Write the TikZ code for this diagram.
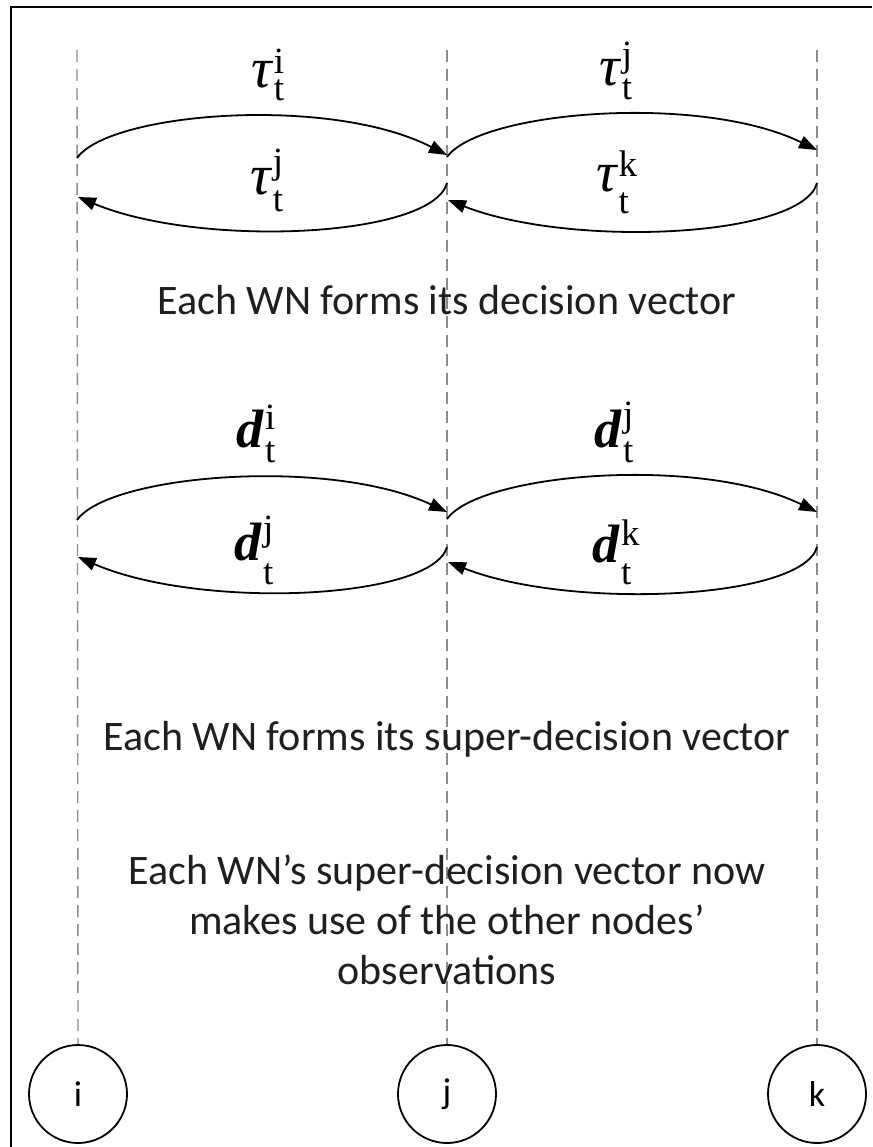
\documentclass[tikz,border=0pt]{standalone}
\usepackage{fontspec}
\setmainfont{Carlito}
\newfontfamily\lblfont{Liberation Serif}
\usetikzlibrary{arrows.meta}

% symbol with a stacked superscript and subscript:
% #1 base glyph, #2 superscript, #3 subscript, #4 raise, #5 drop
\newcommand{\stacklab}[5]{{\lblfont #1}\kern1.5pt{\lblfont\fontsize{37}{40}\selectfont
  \ooalign{\raisebox{#4}{#2}\cr\raisebox{-#5}{#3}\cr}}}

\tikzset{
  lane/.style={draw=black!45, line width=1.4pt, dash pattern=on 12pt off 7pt},
  msg/.style={draw=black, line width=1.8pt, -{Triangle[length=18pt,width=13pt]}},
  wn/.style={circle, draw=black, line width=1.8pt, minimum size=98pt, inner sep=0pt,
    font=\fontsize{36}{40}\selectfont},
  taulbl/.style={inner sep=0pt, anchor=base, font=\fontsize{57}{60}\selectfont},
  dlbl/.style={inner sep=0pt, anchor=base, font=\fontsize{54}{58}\selectfont},
  caption/.style={inner sep=0pt, anchor=base, text=black!88, align=center,
    font=\fontsize{42}{50}\selectfont},
  frameline/.style={draw=black, line width=2pt}
}

\begin{document}
\begin{tikzpicture}[x=1pt, y=-1pt]
  \useasboundingbox (0,0) rectangle (872,1147);
  \fill[white] (0,0) rectangle (872,1147);
  \draw[frameline] (11,1147) -- (11,7) -- (872,7);

  % wireless nodes
  \node[wn] (ni) at (78,1094) {i};
  \node[wn] (nj) at (447,1094) {j};
  \node[wn] (nk) at (817,1094) {k};

  % lane tops
  \coordinate (ti) at (77,50);
  \coordinate (tj) at (447,50);
  \coordinate (tk) at (817,50);
  \draw[lane] (ti) -- (ni.north);
  \draw[lane] (tj) -- (nj.north);
  \draw[lane] (tk) -- (nk.north);

  % first exchange: thresholds
  \coordinate (a1s) at (77,158);  \coordinate (a1e) at (447,155);
  \coordinate (a2s) at (447,183); \coordinate (a2e) at (78,197);
  \coordinate (a3s) at (447,157); \coordinate (a3e) at (817,150);
  \coordinate (a4s) at (817,183); \coordinate (a4e) at (448,200);
  \draw[msg] (a1s) .. controls (110,112) and (330,95) .. (a1e);
  \draw[msg] (a2s) .. controls (432,238) and (200,248) .. (a2e);
  \draw[msg] (a3s) .. controls (480,111) and (700,93) .. (a3e);
  \draw[msg] (a4s) .. controls (802,238) and (570,248) .. (a4e);

  \node[taulbl] (tau1) at (268,88)  {\stacklab{\itshape τ}{i}{t}{14pt}{13pt}};
  \node[taulbl] (tau2) at (267,195) {\stacklab{\itshape τ}{j}{t}{21pt}{17pt}};
  \node[taulbl] (tau3) at (616,86)  {\stacklab{\itshape τ}{j}{t}{19pt}{14pt}};
  \node[taulbl] (tau4) at (617,192) {\stacklab{\itshape τ}{k}{t}{15pt}{22pt}};

  \node[caption] (cap1) at (447,314) {Each WN forms its decision vector};

  % second exchange: decision vectors
  \coordinate (b1s) at (77,520);  \coordinate (b1e) at (447,512);
  \coordinate (b2s) at (447,547); \coordinate (b2e) at (78,557);
  \coordinate (b3s) at (447,519); \coordinate (b3e) at (817,512);
  \coordinate (b4s) at (817,547); \coordinate (b4e) at (448,562);
  \draw[msg] (b1s) .. controls (110,474) and (330,457) .. (b1e);
  \draw[msg] (b2s) .. controls (432,600) and (200,610) .. (b2e);
  \draw[msg] (b3s) .. controls (480,473) and (700,455) .. (b3e);
  \draw[msg] (b4s) .. controls (802,600) and (570,610) .. (b4e);

  \node[dlbl] (d1) at (256,447) {\stacklab{\bfseries\itshape d}{i}{t}{18pt}{15pt}};
  \node[dlbl] (d2) at (254,560) {\stacklab{\bfseries\itshape d}{j}{t}{20pt}{24pt}};
  \node[dlbl] (d3) at (614,447) {\stacklab{\bfseries\itshape d}{j}{t}{21pt}{15pt}};
  \node[dlbl] (d4) at (616,562) {\stacklab{\bfseries\itshape d}{k}{t}{17pt}{22pt}};

  \node[caption] (cap2) at (447,750) {Each WN forms its super-decision vector};

  \node[caption, anchor=center] (cap3) at (447,920)
    {Each WN’s super-decision vector now\\makes use of the other nodes’\\observations};
\end{tikzpicture}
\end{document}
